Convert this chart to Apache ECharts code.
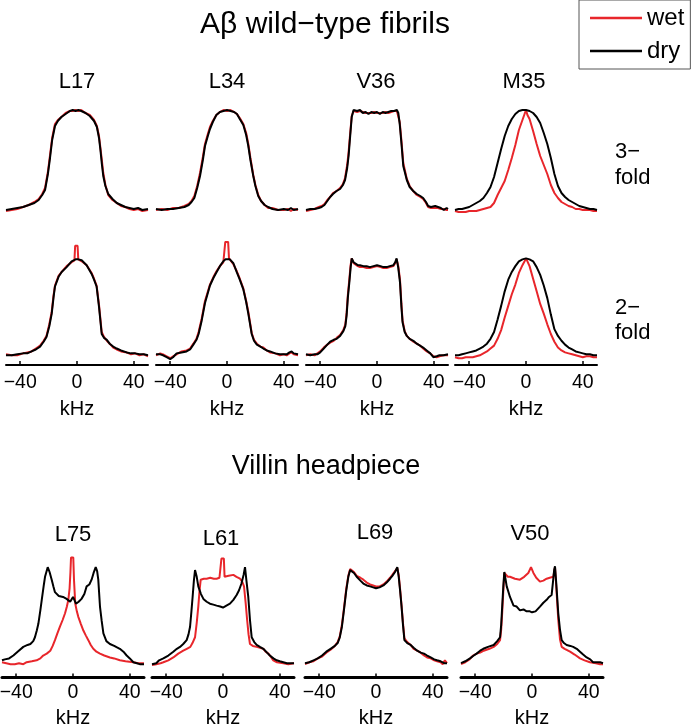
<!DOCTYPE html>
<html>
<head>
<meta charset="utf-8">
<script src="https://cdn.jsdelivr.net/npm/echarts@6.0.0/dist/echarts.min.js"></script>
<style>
  html, body { margin: 0; padding: 0; background: #fff; }
  #chart { width: 693px; height: 724px; }
</style>
</head>
<body>
<div id="chart"></div>
<script>
// spectra: [kHz, normalised intensity]
// A-beta, 3-fold
const l17Dry3 = [[-50,0],[-46,0.01],[-42,0.02],[-38,0.03],[-34,0.05],[-30,0.07],[-27,0.1],[-24.5,0.15],[-22.5,0.2],[-20.5,0.36],[-19,0.52],[-17.5,0.7],[-15.5,0.84],[-13.5,0.89],[-11,0.93],[-8,0.96],[-5,0.99],[-3,1.0],[-1,0.99],[1,1.0],[3,0.99],[6,0.97],[9,0.94],[12,0.89],[14,0.83],[15.5,0.72],[16.5,0.6],[17.5,0.46],[18.5,0.34],[20,0.24],[22,0.16],[25,0.11],[28,0.07],[31,0.05],[34,0.03],[37,0.02],[40,0.01],[43,0.02],[46,0.0],[50,0.01]];
const l17Wet3 = [[-50,-0.01],[-46,0.0],[-42,0.01],[-38,0.03],[-34,0.05],[-30,0.08],[-27,0.11],[-24.5,0.16],[-22.5,0.22],[-20.5,0.38],[-19,0.55],[-17.5,0.72],[-15.5,0.86],[-13.5,0.9],[-11,0.93],[-8,0.97],[-5,0.99],[-3,0.99],[-1,1.0],[1,0.99],[3,1.0],[6,0.97],[9,0.95],[12,0.9],[14,0.84],[15.5,0.74],[16.5,0.62],[17.5,0.5],[18.5,0.37],[20,0.25],[22,0.15],[25,0.1],[28,0.07],[31,0.04],[34,0.03],[37,0.01],[40,0.0],[43,0.01],[46,-0.01],[50,0.0]];
const l34Dry3 = [[-50,0.01],[-46,0.0],[-42,0.01],[-38,0.01],[-34,0.02],[-30,0.03],[-27,0.05],[-25,0.08],[-23,0.12],[-21,0.22],[-19,0.34],[-17,0.5],[-15.5,0.64],[-13.5,0.74],[-12,0.81],[-10,0.88],[-7.5,0.95],[-5,0.98],[-2.5,0.99],[0,1.0],[2.5,0.99],[5,0.98],[7,0.96],[9,0.91],[11.5,0.85],[13.5,0.75],[15,0.64],[16.5,0.5],[18.5,0.34],[20,0.24],[22,0.14],[24,0.09],[26.5,0.05],[29,0.03],[32,0.01],[36,0.0],[40,0.01],[43,0.0],[45,0.02],[47,0.0],[50,0.01]];
const l34Wet3 = [[-50,0.0],[-46,0.01],[-42,0.0],[-38,0.02],[-34,0.02],[-30,0.04],[-27,0.06],[-25,0.09],[-23,0.14],[-21,0.24],[-19,0.37],[-17,0.53],[-15.5,0.66],[-13.5,0.76],[-12,0.83],[-10,0.89],[-7.5,0.95],[-5,0.98],[-2.5,1.0],[0,0.99],[2.5,1.0],[5,0.98],[7,0.96],[9,0.92],[11.5,0.86],[13.5,0.77],[15,0.66],[16.5,0.52],[18.5,0.35],[20,0.25],[22,0.15],[24,0.09],[26.5,0.05],[29,0.02],[32,0.02],[36,0.0],[40,0.0],[43,0.01],[45,-0.01],[47,0.01],[50,0.0]];
const v36Dry3 = [[-50,0.0],[-47,0.01],[-44,0.01],[-41,0.02],[-39,0.03],[-37,0.05],[-35,0.09],[-33,0.13],[-31,0.16],[-28.5,0.19],[-26,0.21],[-24,0.25],[-22.5,0.3],[-21,0.42],[-20,0.54],[-19,0.72],[-17.8,0.93],[-16.5,1.0],[-14,0.99],[-12,1.0],[-10,0.97],[-8,0.98],[-6,0.96],[-4,0.98],[-2,0.97],[0,0.98],[2,0.96],[4,0.98],[6,0.97],[8,0.98],[10,0.99],[12,0.99],[14,1.0],[15,0.97],[16,0.86],[17.3,0.65],[18.5,0.44],[21,0.3],[23,0.23],[25.5,0.19],[28,0.16],[30.5,0.14],[32.5,0.12],[34.5,0.08],[36,0.04],[38,0.03],[41,0.04],[43,0.03],[45,0.02],[47,0.0],[49,0.02],[50,0.01]];
const v36Wet3 = [[-50,-0.01],[-47,0.0],[-44,0.01],[-41,0.03],[-39,0.04],[-37,0.06],[-35,0.1],[-33,0.13],[-31,0.17],[-28.5,0.19],[-26,0.22],[-24,0.26],[-22.5,0.32],[-21,0.45],[-20,0.58],[-19,0.75],[-17.8,0.94],[-16.5,0.99],[-14,0.98],[-12,0.99],[-10,0.98],[-8,0.97],[-6,0.97],[-4,0.97],[-2,0.98],[0,0.97],[2,0.97],[4,0.97],[6,0.98],[8,0.97],[10,0.98],[12,0.99],[14,0.99],[15,0.98],[16,0.88],[17.3,0.68],[18.5,0.47],[21,0.31],[23,0.24],[25.5,0.19],[28,0.15],[30.5,0.13],[32.5,0.11],[34.5,0.07],[36,0.03],[38,0.02],[41,0.02],[43,0.02],[45,0.01],[47,0.01],[49,0.0],[50,0.0]];
const m35Dry3 = [[-50,0.0],[-47.5,0.01],[-45,0.01],[-42.5,0.02],[-40,0.03],[-37.5,0.05],[-35,0.07],[-32.5,0.09],[-30,0.12],[-27.5,0.17],[-25,0.23],[-22.5,0.33],[-20,0.47],[-17.5,0.61],[-15,0.74],[-12.5,0.84],[-10,0.91],[-7.5,0.96],[-5,0.99],[-2.5,1.0],[0,1.0],[2.5,0.99],[5,0.97],[7.5,0.93],[10,0.87],[12.5,0.77],[15,0.66],[17.5,0.52],[20,0.36],[22.5,0.24],[25,0.17],[27.5,0.13],[30,0.1],[32.5,0.08],[35,0.06],[37.5,0.04],[40,0.03],[42.5,0.02],[45,0.01],[47.5,0.01],[50,0.0]];
const m35Wet3 = [[-50,-0.01],[-47.5,-0.02],[-45,-0.02],[-42.5,-0.02],[-40,-0.01],[-37.5,-0.01],[-35,-0.01],[-32.5,0.0],[-30,0.01],[-27.5,0.02],[-25,0.03],[-22.5,0.07],[-20,0.15],[-17.5,0.22],[-15,0.29],[-12.5,0.4],[-10,0.52],[-7.5,0.65],[-5,0.8],[-2.5,0.9],[-1,0.96],[0,1.0],[1,0.95],[2.5,0.91],[5,0.79],[7.5,0.66],[10,0.54],[12.5,0.45],[15,0.36],[17.5,0.25],[20,0.17],[22.5,0.12],[25,0.08],[27.5,0.06],[30,0.04],[32.5,0.03],[35,0.01],[37.5,0.01],[40,0.0],[42.5,0.0],[45,0.0],[47.5,-0.01],[50,-0.01]];

// A-beta, 2-fold
const l17Dry2 = [[-50,0],[-46,0.0],[-42,0.01],[-38,0.02],[-35,0.02],[-32,0.04],[-29,0.06],[-26,0.09],[-23.5,0.14],[-21.5,0.19],[-19.5,0.3],[-17.8,0.43],[-16.5,0.6],[-15.5,0.71],[-13,0.81],[-10.8,0.86],[-7.3,0.91],[-3.8,0.97],[-1,0.99],[0,1.0],[1,0.99],[3.3,0.98],[6.8,0.93],[10.3,0.84],[12,0.78],[13.8,0.71],[15.5,0.5],[17.4,0.22],[19,0.18],[21,0.16],[23,0.12],[25.5,0.09],[28,0.07],[31,0.05],[35,0.03],[38,0.02],[41,0.02],[44,0.01],[47,0.01],[50,0.0]];
const l17Wet2 = [[-50,0.01],[-46,0.0],[-42,0.0],[-38,0.02],[-35,0.03],[-32,0.04],[-29,0.07],[-26,0.1],[-23.5,0.15],[-21.5,0.2],[-19.5,0.32],[-17.8,0.45],[-16.5,0.62],[-15.5,0.72],[-13,0.82],[-10.8,0.86],[-7.3,0.92],[-3.8,0.96],[-1.8,0.98],[-1.3,1.13],[0.4,1.13],[0.9,0.99],[3.3,0.97],[6.8,0.93],[10.3,0.85],[12,0.79],[13.8,0.72],[15.5,0.52],[17.4,0.24],[19,0.19],[21,0.15],[23,0.12],[25.5,0.08],[28,0.06],[31,0.04],[35,0.03],[38,0.01],[41,0.02],[44,0.0],[47,0.01],[50,-0.01]];
const l34Dry2 = [[-50,0.01],[-47,0.01],[-45,0.0],[-42.5,-0.02],[-40,-0.04],[-38,-0.02],[-35.5,0.02],[-32,0.03],[-28.5,0.04],[-26,0.06],[-23.7,0.11],[-21.5,0.16],[-20,0.22],[-17.8,0.36],[-15.5,0.54],[-12,0.72],[-9.5,0.8],[-7.3,0.86],[-5,0.92],[-2.6,0.97],[-1,0.99],[0,1.0],[2,0.99],[4.5,0.95],[6.8,0.86],[9,0.78],[11.5,0.68],[13.5,0.55],[15,0.43],[17.4,0.22],[19,0.15],[21,0.11],[23.5,0.09],[25.6,0.07],[28,0.05],[30.3,0.04],[34,0.02],[37.3,0.01],[40,0.01],[42,0.01],[44,0.03],[45.5,0.04],[47,0.02],[50,0.01]];
const l34Wet2 = [[-50,0.0],[-47,0.02],[-45,0.01],[-42.5,-0.01],[-40,-0.03],[-38,-0.01],[-35.5,0.01],[-32,0.04],[-28.5,0.05],[-26,0.07],[-23.7,0.12],[-21.5,0.17],[-20,0.24],[-17.8,0.38],[-15.5,0.56],[-12,0.73],[-9.5,0.81],[-7.3,0.87],[-5,0.92],[-2.6,0.96],[-1.8,0.98],[-1.2,1.17],[0.8,1.17],[1.4,1.0],[2,0.98],[4.5,0.94],[6.8,0.87],[9,0.79],[11.5,0.69],[13.5,0.56],[15,0.45],[17.4,0.23],[19,0.16],[21,0.12],[23.5,0.09],[25.6,0.08],[28,0.05],[30.3,0.03],[34,0.02],[37.3,0.0],[40,0.01],[42,0.0],[44,0.02],[45.5,0.03],[47,0.01],[50,0.0]];
const v36Dry2 = [[-50,0.01],[-47,0.0],[-44,0.01],[-42,0.01],[-40,0.03],[-37.5,0.07],[-35,0.11],[-33,0.14],[-30.5,0.16],[-28.4,0.17],[-26,0.2],[-23.7,0.25],[-22.3,0.3],[-21.4,0.41],[-20.5,0.6],[-19.5,0.75],[-18.6,0.9],[-17.8,1.0],[-16.5,0.96],[-15.5,0.95],[-13.5,0.93],[-12,0.93],[-9.5,0.92],[-7.3,0.92],[-5,0.91],[-2.5,0.92],[0,0.93],[2.5,0.92],[4.5,0.91],[6.8,0.91],[9,0.92],[11.5,0.93],[12.8,0.96],[13.8,1.0],[15,0.9],[16.2,0.75],[17.2,0.5],[18,0.34],[19.5,0.24],[21,0.2],[23,0.17],[25.6,0.15],[28,0.12],[30.3,0.1],[32.5,0.08],[35,0.05],[37.5,0.02],[39.7,-0.02],[42,-0.01],[44,0.0],[47,0.0],[50,0.01]];
const v36Wet2 = [[-50,0.0],[-47,0.01],[-44,0.0],[-42,0.02],[-40,0.04],[-37.5,0.08],[-35,0.11],[-33,0.13],[-30.5,0.15],[-28.4,0.18],[-26,0.21],[-23.7,0.26],[-22.3,0.32],[-21.4,0.44],[-20.5,0.63],[-19.5,0.78],[-18.6,0.93],[-17.8,1.0],[-16.5,0.95],[-15.5,0.94],[-13.5,0.92],[-12,0.91],[-9.5,0.91],[-7.3,0.9],[-5,0.9],[-2.5,0.91],[0,0.92],[2.5,0.91],[4.5,0.9],[6.8,0.9],[9,0.91],[11.5,0.92],[12.8,0.95],[13.8,0.99],[15,0.92],[16.2,0.78],[17.2,0.53],[18,0.36],[19.5,0.25],[21,0.2],[23,0.17],[25.6,0.14],[28,0.12],[30.3,0.1],[32.5,0.07],[35,0.04],[37.5,0.02],[39.7,-0.01],[42,-0.02],[44,-0.01],[47,0.0],[50,0.0]];
const m35Dry2 = [[-50,0.0],[-47.5,0.0],[-45,0.01],[-42.5,0.02],[-40,0.03],[-37.5,0.04],[-35,0.05],[-32.5,0.07],[-30,0.09],[-27.5,0.12],[-25,0.17],[-22.5,0.24],[-20,0.37],[-17.5,0.51],[-15,0.66],[-12.5,0.78],[-10,0.86],[-7.5,0.92],[-5,0.97],[-2.5,0.99],[0,1.0],[2.5,0.99],[5,0.97],[7.5,0.91],[10,0.83],[12.5,0.72],[15,0.59],[17.5,0.42],[20,0.27],[22.5,0.2],[25,0.15],[27.5,0.11],[30,0.08],[32.5,0.06],[35,0.04],[37.5,0.03],[40,0.02],[42.5,0.01],[45,0.01],[47.5,0.0],[50,0.0]];
const m35Wet2 = [[-50,-0.02],[-47.5,-0.03],[-45,-0.03],[-42.5,-0.02],[-40,-0.02],[-37.5,-0.02],[-35,-0.01],[-32.5,0.0],[-30,0.02],[-27.5,0.04],[-25,0.07],[-22.5,0.1],[-20,0.17],[-17.5,0.26],[-15,0.39],[-12.5,0.51],[-10,0.63],[-7.5,0.73],[-5,0.85],[-2.5,0.93],[-1,0.97],[0,1.0],[1,0.97],[2.5,0.92],[5,0.79],[7.5,0.66],[10,0.53],[12.5,0.43],[15,0.32],[17.5,0.22],[20,0.14],[22.5,0.08],[25,0.05],[27.5,0.03],[30,0.02],[32.5,0.01],[35,0.0],[37.5,-0.01],[40,-0.02],[42.5,-0.01],[45,-0.01],[47.5,-0.02],[50,-0.02]];

// villin headpiece
const l75Dry = [[-50,0.03],[-48,0.04],[-45,0.05],[-42,0.08],[-39,0.12],[-35,0.17],[-32,0.19],[-30,0.2],[-28,0.23],[-26.8,0.27],[-25.5,0.34],[-24.4,0.41],[-23,0.55],[-22,0.66],[-20.5,0.82],[-19.7,0.9],[-17.8,1.0],[-16.5,0.95],[-15,0.87],[-13.8,0.8],[-12.7,0.74],[-10,0.7],[-7,0.69],[-4.5,0.67],[-2,0.64],[0,0.69],[2.1,0.62],[4,0.64],[6,0.67],[8,0.72],[9.6,0.8],[11.5,0.82],[13.1,0.87],[14.5,0.94],[16,1.0],[17,0.96],[17.8,0.87],[19,0.59],[20.2,0.44],[21.4,0.31],[23.5,0.23],[26,0.2],[29,0.18],[33,0.15],[35.5,0.12],[37.8,0.08],[40,0.05],[42.5,0.01],[45,0.0],[47,-0.01],[50,-0.01]];
const l75Wet = [[-50,0.01],[-47,0.0],[-44,-0.01],[-41,-0.01],[-38,0.0],[-35,-0.01],[-32.6,0.01],[-29,0.02],[-25.6,0.03],[-23,0.05],[-21,0.08],[-18.5,0.1],[-16,0.13],[-14.3,0.18],[-12.7,0.24],[-11,0.31],[-9.2,0.38],[-7.3,0.45],[-5.6,0.52],[-4.3,0.59],[-3.3,0.66],[-2.4,0.78],[-1.8,0.95],[-1.4,1.1],[0.2,1.1],[0.7,0.87],[1.6,0.62],[2.7,0.54],[3.8,0.48],[5.5,0.41],[7.3,0.34],[9,0.29],[10.8,0.24],[12.5,0.19],[14.3,0.15],[16.5,0.12],[19,0.1],[22,0.08],[26,0.06],[29,0.05],[33,0.03],[37,0.02],[42.5,0.01],[46,0.0],[50,0.0]];
const l61Dry = [[-50,-0.01],[-47,0.0],[-45,0.03],[-42,0.05],[-38.5,0.08],[-35,0.12],[-32.5,0.15],[-30.3,0.17],[-28,0.2],[-25.6,0.24],[-24.3,0.3],[-23.2,0.38],[-22.3,0.53],[-21.4,0.69],[-20.5,0.86],[-19.7,0.97],[-18.5,0.9],[-17.4,0.8],[-15.5,0.72],[-13.8,0.67],[-11.5,0.64],[-9.2,0.62],[-6.8,0.61],[-4.5,0.6],[-2,0.59],[0,0.58],[2.4,0.6],[4.9,0.62],[7.3,0.66],[9.6,0.71],[11.3,0.76],[13,0.83],[14.5,0.92],[15.5,1.0],[16.5,0.86],[17.8,0.69],[19,0.45],[20.2,0.27],[22,0.22],[23.7,0.19],[26,0.17],[28.4,0.15],[31,0.11],[33,0.08],[35.5,0.05],[37.8,0.03],[40,0.02],[42.5,0.01],[45,0.0],[47,0.0],[50,0.0]];
const l61Wet = [[-50,-0.02],[-47,-0.01],[-44,0.0],[-42,0.01],[-38.5,0.03],[-35,0.06],[-31.5,0.1],[-28,0.13],[-25.5,0.15],[-23,0.17],[-21.5,0.21],[-19.7,0.27],[-18.5,0.42],[-17.4,0.59],[-16.5,0.76],[-15.7,0.87],[-13.5,0.88],[-11.5,0.88],[-9,0.89],[-6.5,0.88],[-4.5,0.88],[-2.5,0.89],[-1.6,0.9],[-1.1,1.09],[0.6,1.09],[1.1,0.9],[1.6,0.9],[4,0.91],[7.3,0.92],[9.5,0.9],[12,0.88],[13.5,0.85],[14.8,0.8],[16,0.62],[17,0.45],[18,0.3],[19,0.2],[21,0.18],[23.7,0.17],[26,0.16],[28.4,0.15],[30,0.12],[32,0.1],[34,0.06],[35.4,0.03],[38,0.01],[42.5,0.0],[46,-0.01],[50,0.0]];
const l69Dry = [[-50,0.0],[-47,0.01],[-44,0.03],[-41,0.05],[-38,0.08],[-35,0.12],[-32,0.15],[-29,0.18],[-27,0.21],[-25.5,0.27],[-24,0.38],[-22.5,0.56],[-21,0.75],[-19.5,0.9],[-18.2,0.97],[-17.1,0.99],[-15.5,0.94],[-13.6,0.9],[-11,0.86],[-8.9,0.83],[-6.5,0.81],[-4.2,0.8],[-2,0.79],[0,0.78],[2.5,0.79],[5.2,0.81],[7.5,0.84],[9.9,0.88],[11.5,0.91],[13.4,0.95],[15,1.0],[16,0.9],[17,0.75],[18,0.59],[19,0.4],[20,0.24],[22,0.21],[24.4,0.19],[26.5,0.16],[29,0.13],[31.5,0.11],[33.8,0.1],[36,0.08],[38.5,0.06],[41,0.04],[43,0.03],[45.5,0.02],[48,0.0],[50,0.0]];
const l69Wet = [[-50,-0.01],[-47,0.01],[-44,0.02],[-41,0.05],[-38,0.07],[-35,0.11],[-32,0.14],[-29,0.18],[-27,0.22],[-25.5,0.28],[-24,0.4],[-22.5,0.58],[-21,0.77],[-19.5,0.91],[-18.2,0.98],[-17.1,0.98],[-15.5,0.95],[-13.6,0.91],[-11,0.89],[-8.9,0.87],[-6.5,0.84],[-4.2,0.82],[-2,0.81],[0,0.8],[2.5,0.8],[5.2,0.82],[7.5,0.85],[9.9,0.89],[11.5,0.92],[13.4,0.96],[15,0.99],[16,0.92],[17,0.77],[18,0.6],[19,0.42],[20,0.26],[22,0.22],[24.4,0.19],[26.5,0.15],[29,0.13],[31.5,0.11],[33.8,0.08],[36,0.06],[38.5,0.05],[41,0.03],[43,0.02],[45.5,0.01],[47,-0.01],[48.5,0.03],[50,0.0]];
const v50Dry = [[-50,0.0],[-47,0.02],[-43.7,0.05],[-41,0.08],[-39,0.1],[-36.5,0.13],[-34.3,0.15],[-31,0.17],[-27,0.19],[-24.5,0.23],[-22.5,0.27],[-21.7,0.4],[-21,0.59],[-20.2,0.8],[-19.5,0.95],[-18.7,0.88],[-17.8,0.8],[-15.5,0.69],[-13,0.6],[-10.8,0.59],[-8.5,0.55],[-6,0.56],[-3.8,0.54],[-1.5,0.54],[0,0.53],[2.5,0.54],[5.6,0.59],[8,0.63],[10.3,0.66],[12,0.69],[13.8,0.71],[14.8,0.85],[15.6,0.97],[16.2,1.01],[17,0.85],[18.5,0.52],[19.7,0.35],[20.9,0.24],[22.5,0.21],[24.4,0.19],[27,0.18],[29,0.17],[31.5,0.15],[33.8,0.12],[36,0.09],[38.5,0.06],[41,0.04],[43,0.01],[46,0.01],[48,0.01],[50,0.0]];
const v50Wet = [[-50,-0.01],[-47,0.01],[-44,0.04],[-41.5,0.08],[-39,0.1],[-36.5,0.11],[-34,0.13],[-30,0.15],[-27,0.17],[-24.5,0.2],[-22.5,0.24],[-21.7,0.35],[-21,0.52],[-20.2,0.75],[-19.5,0.94],[-18.5,0.93],[-17,0.9],[-15.5,0.9],[-12,0.88],[-8.5,0.87],[-5.5,0.9],[-2.6,0.94],[-0.7,1.0],[1,0.94],[3,0.89],[5.6,0.85],[8,0.86],[10.3,0.88],[12.5,0.89],[15,0.9],[15.8,0.97],[16.2,1.0],[17,0.82],[18.5,0.45],[19.7,0.25],[20.9,0.17],[23,0.15],[26.8,0.12],[30,0.09],[33.8,0.05],[37,0.03],[40.8,0.01],[45,0.0],[48,-0.01],[50,-0.01]];

const tickValues = [-40, 0, 40];
const seriesNames = ['wet', 'dry'];
const wetColor = '#e8262b';
const dryColor = '#000000';
const FONT = '"Liberation Sans", Arial, Helvetica, sans-serif';

// rows: vertical placement of each panel row
const rows = [
  {top: 90, height: 130, min: -0.1, max: 1.2, axis: false},
  {top: 239, height: 126, min: -0.1, max: 1.2, axis: true, lineW: 2, margin: 8, nameGap: 34},
  {top: 548, height: 129.6, min: -0.15, max: 1.2, axis: true, lineW: 3, margin: 5, nameGap: 31}
];
const centers = [[77, 227, 377, 526], [77, 227, 377, 526], [73, 223, 376, 532]];

const panels = [
  {row: 0, col: 0, wet: l17Wet3, dry: l17Dry3},
  {row: 0, col: 1, wet: l34Wet3, dry: l34Dry3},
  {row: 0, col: 2, wet: v36Wet3, dry: v36Dry3},
  {row: 0, col: 3, wet: m35Wet3, dry: m35Dry3},
  {row: 1, col: 0, wet: l17Wet2, dry: l17Dry2},
  {row: 1, col: 1, wet: l34Wet2, dry: l34Dry2},
  {row: 1, col: 2, wet: v36Wet2, dry: v36Dry2},
  {row: 1, col: 3, wet: m35Wet2, dry: m35Dry2},
  {row: 2, col: 0, wet: l75Wet, dry: l75Dry},
  {row: 2, col: 1, wet: l61Wet, dry: l61Dry},
  {row: 2, col: 2, wet: l69Wet, dry: l69Dry},
  {row: 2, col: 3, wet: v50Wet, dry: v50Dry}
];

const labels = [
  {text: 'Aβ wild−type fibrils', x: 325, y: 25, size: 30, align: 'center'},
  {text: 'Villin headpiece', x: 326, y: 467, size: 27, align: 'center'},
  {text: 'L17', x: 77, y: 82, size: 22, align: 'center'},
  {text: 'L34', x: 227, y: 82, size: 22, align: 'center'},
  {text: 'V36', x: 376, y: 82, size: 22, align: 'center'},
  {text: 'M35', x: 524, y: 82, size: 22, align: 'center'},
  {text: 'L75', x: 73, y: 535, size: 22, align: 'center'},
  {text: 'L61', x: 221, y: 539, size: 22, align: 'center'},
  {text: 'L69', x: 375, y: 533, size: 22, align: 'center'},
  {text: 'V50', x: 530, y: 534, size: 22, align: 'center'},
  {text: '3−', x: 615, y: 152, size: 22, align: 'left'},
  {text: 'fold', x: 615, y: 178, size: 22, align: 'left'},
  {text: '2−', x: 615, y: 308, size: 22, align: 'left'},
  {text: 'fold', x: 615, y: 333, size: 22, align: 'left'}
];

const fmtTick = v => (v < 0 ? '−' + Math.abs(v) : String(v));

const grid = [], xAxis = [], yAxis = [], series = [];
panels.forEach((p, i) => {
  const r = rows[p.row];
  grid.push({
    left: centers[p.row][p.col] - 71, width: 142, top: r.top, height: r.height,
    containLabel: false, outerBoundsMode: 'none'
  });
  xAxis.push({
    gridIndex: i, type: 'value', min: -50, max: 50,
    show: r.axis,
    splitLine: {show: false},
    axisLine: {show: r.axis, onZero: false, lineStyle: {color: '#000', width: r.lineW || 1}},
    axisTick: {show: r.axis, inside: true, length: 4, customValues: tickValues, lineStyle: {color: '#000', width: 1.5}},
    axisLabel: {show: r.axis, customValues: tickValues, formatter: fmtTick, margin: r.margin, color: '#000', fontSize: 19.5, fontFamily: FONT},
    name: r.axis ? 'kHz' : '', nameLocation: 'middle', nameGap: r.nameGap,
    nameTextStyle: {color: '#000', fontSize: 20, fontFamily: FONT}
  });
  yAxis.push({gridIndex: i, type: 'value', min: r.min, max: r.max, show: false, splitLine: {show: false}});
  series.push({
    name: seriesNames[0], type: 'line', xAxisIndex: i, yAxisIndex: i, data: p.wet,
    symbol: 'none', z: 2, lineStyle: {color: wetColor, width: 2}, itemStyle: {color: wetColor}
  });
  series.push({
    name: seriesNames[1], type: 'line', xAxisIndex: i, yAxisIndex: i, data: p.dry,
    symbol: 'none', z: 3, lineStyle: {color: dryColor, width: 2}, itemStyle: {color: dryColor}
  });
});

const chart = echarts.init(document.getElementById('chart'));
chart.setOption({
  animation: false,
  backgroundColor: '#fff',
  grid, xAxis, yAxis, series,
  legend: {
    data: seriesNames, orient: 'vertical', left: 579, top: 0,
    padding: [6, 6, 6, 11], itemGap: 9, itemWidth: 52, itemHeight: 2.5,
    icon: 'rect', selectedMode: false,
    borderColor: '#555', borderWidth: 1,
    textStyle: {color: '#000', fontSize: 24, lineHeight: 24, fontFamily: FONT}
  },
  graphic: labels.map(l => ({
    type: 'text', x: l.x, y: l.y, silent: true,
    style: {text: l.text, fill: '#000', font: l.size + 'px ' + FONT, textAlign: l.align, textVerticalAlign: 'middle'}
  }))
});
</script>
</body>
</html>
